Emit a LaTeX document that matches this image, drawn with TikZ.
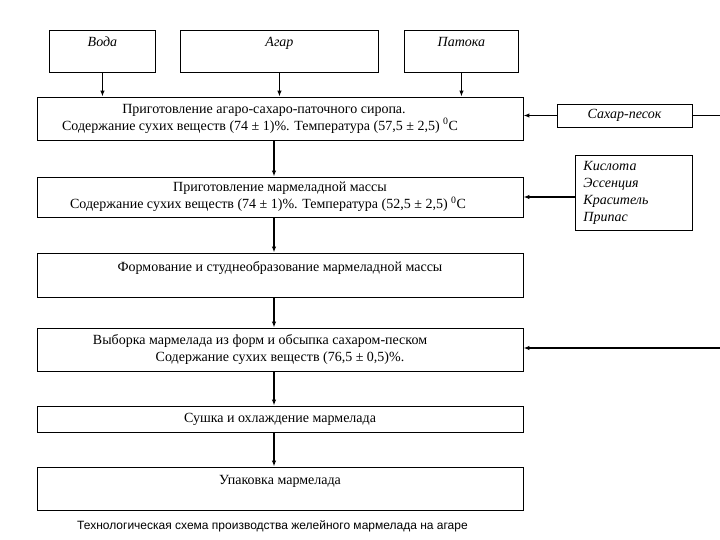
\documentclass[tikz,border=0pt]{standalone}
\usepackage{fontspec}
\setmainfont{Liberation Serif}
\newfontfamily\capfont{Liberation Sans}
\usetikzlibrary{arrows.meta}

\begin{document}
\begin{tikzpicture}[x=1pt,y=-1pt,
  box/.style={draw,line width=0.9pt,minimum width=486pt,align=center,inner sep=2pt,
    font=\fontsize{14}{17}\selectfont},
  inbox/.style={draw,line width=0.9pt,anchor=north west,inner sep=3pt,
    text height=13pt,text depth=23pt,font=\fontsize{14}{15}\selectfont\itshape},
  arr/.style={-{Latex[length=6pt,width=4.5pt]},line width=1.3pt}]
\useasboundingbox (0,0) rectangle (720,540);
% what goes in at the top
\node[inbox,minimum width=106pt] (voda) at (49,30) {Вода};
\node[inbox,minimum width=198pt] (agar) at (180,30) {Агар};
\node[inbox,minimum width=114pt] (patoka) at (404,30) {Патока};
% main line
\node[box,minimum height=43pt] (box1) at (280,118.5)
  {Приготовление агаро-сахаро-паточного сиропа.\hspace*{32pt}\\
   Содержание сухих веществ (74 ± 1)\%. Температура (57,5 ± 2,5) \textsuperscript{0}С\hspace*{40pt}};
\node[box,minimum height=40pt] (box2) at (280,197)
  {Приготовление мармеладной массы\\
   Содержание сухих веществ (74 ± 1)\%. Температура (52,5 ± 2,5) \textsuperscript{0}С\hspace*{24pt}};
\node[box,minimum height=44pt] (box3) at (280,275)
  {Формование и студнеобразование мармеладной массы\\ \mbox{}};
\node[box,minimum height=43pt] (box4) at (280,349.5)
  {Выборка мармелада из форм и обсыпка сахаром-песком\hspace*{40pt}\\
   Содержание сухих веществ (76,5 ± 0,5)\%.};
\node[box,minimum height=26pt] (box5) at (280,419) {Сушка и охлаждение мармелада};
\node[box,minimum height=43pt] (box6) at (280,488.5) {Упаковка мармелада\\ \mbox{}};
% side inputs
\node[draw,line width=0.9pt,minimum width=135pt,minimum height=23pt,
  font=\fontsize{14}{15}\selectfont\itshape] (sugar) at (624.5,115.5) {Сахар-песок};
\node[draw,line width=0.9pt,anchor=north west,minimum width=117pt,minimum height=75pt,
  inner xsep=8pt,text width=101pt,align=left,
  font=\fontsize{14}{17}\selectfont\itshape] (adds) at (575,155)
  {Кислота\\ Эссенция\\ Краситель\\ Припас};
\coordinate (edge1) at (720,115.5);
\coordinate (edge2) at (720,348);
% caption
\node[font=\capfont\fontsize{12}{13}\selectfont] (caption) at (272.5,526)
  {Технологическая схема производства желейного мармелада на агаре};

\foreach \n in {voda,agar,patoka}
  \draw[arr] (\n.south) -- (\n.south |- box1.north);
\foreach \a/\b in {box1/box2,box2/box3,box3/box4,box4/box5,box5/box6}
  \draw[arr] ([xshift=-6pt]\a.south) -- ([xshift=-6pt]\b.north);
\draw[line width=0.9pt] (sugar.east) -- (edge1);
\draw[arr] (sugar.west) -- (sugar.west -| box1.east);
\draw[arr] (adds.west |- box2.east) -- (box2.east);
\draw[arr] (edge2) -- (edge2 -| box4.east);
\end{tikzpicture}
\end{document}
